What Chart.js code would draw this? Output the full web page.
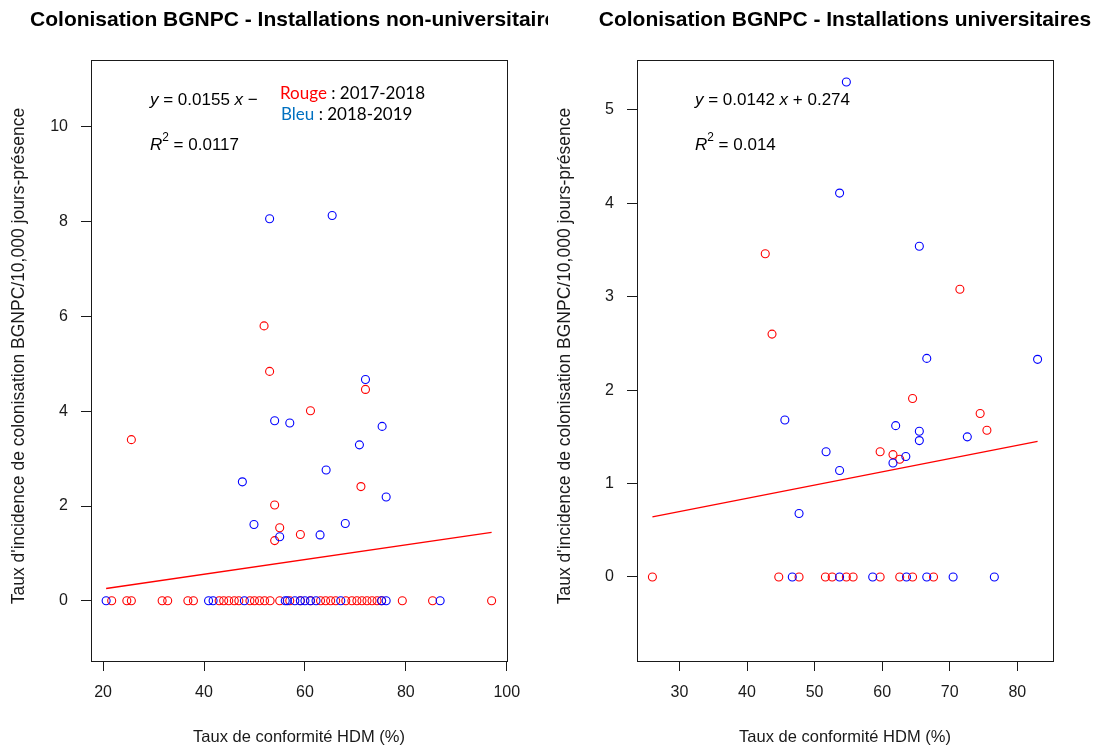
<!DOCTYPE html>
<html>
<head>
<meta charset="utf-8">
<title>Colonisation BGNPC</title>
<script src="https://cdn.jsdelivr.net/npm/chart.js@4.4.0/dist/chart.umd.min.js"></script>
<style>
  body { margin: 0; background: #fff; width: 1093px; height: 748px; overflow: hidden; position: relative; }
  .panel { position: absolute; top: 0; height: 748px; }
  #left { left: 0; width: 548px; }
  #right { left: 548px; width: 545px; }
</style>
</head>
<body>
<div class="panel" id="left"><canvas id="nonUnivChart"></canvas></div>
<div class="panel" id="right"><canvas id="univChart"></canvas></div>
<script>
// [taux de conformité HDM (%), incidence / 10 000 jours-présence]
const nonUnivRouge = [
  [25.6, 3.40], [51.9, 5.80], [53.0, 4.84], [61.1, 4.01], [72.0, 4.46],
  [71.1, 2.41], [54.0, 2.02], [55.0, 1.54], [59.1, 1.40], [54.0, 1.27],
  [21.7, 0], [24.7, 0], [25.6, 0], [31.7, 0], [32.8, 0], [36.8, 0], [37.9, 0],
  [43.0, 0], [43.9, 0], [44.9, 0], [46.0, 0], [46.9, 0], [49.1, 0], [50.0, 0],
  [51.0, 0], [52.0, 0], [53.1, 0], [55.0, 0], [57.0, 0], [59.1, 0], [61.1, 0],
  [63.1, 0], [64.1, 0], [65.1, 0], [66.1, 0], [68.1, 0], [69.3, 0], [70.3, 0],
  [71.3, 0], [72.3, 0], [73.3, 0], [74.3, 0], [75.2, 0], [79.3, 0], [85.3, 0],
  [97.0, 0]
];
const nonUnivBleu = [
  [53.0, 8.06], [65.4, 8.13], [72.0, 4.67], [54.0, 3.80], [57.0, 3.75],
  [75.3, 3.68], [70.8, 3.29], [64.2, 2.76], [47.6, 2.51], [76.1, 2.19],
  [49.9, 1.61], [68.0, 1.63], [63.0, 1.39], [55.0, 1.35],
  [20.6, 0], [40.9, 0], [41.8, 0], [48.0, 0], [56.1, 0], [56.5, 0], [58.0, 0],
  [59.1, 0], [60.0, 0], [61.1, 0], [62.2, 0], [67.1, 0], [75.2, 0], [76.1, 0],
  [86.8, 0]
];
const univRouge = [
  [42.7, 3.46], [71.5, 3.08], [43.7, 2.60], [64.5, 1.91], [74.5, 1.75],
  [75.5, 1.57], [59.7, 1.34], [61.6, 1.31], [62.6, 1.26],
  [26.0, 0], [44.7, 0], [47.7, 0], [51.6, 0], [52.6, 0], [54.7, 0], [55.7, 0],
  [59.7, 0], [62.6, 0], [64.5, 0], [67.6, 0]
];
const univBleu = [
  [54.7, 5.30], [53.7, 4.11], [65.5, 3.54], [66.6, 2.34], [83.0, 2.33],
  [45.6, 1.68], [62.0, 1.62], [65.5, 1.56], [72.6, 1.50], [65.5, 1.46],
  [51.7, 1.34], [63.5, 1.29], [61.6, 1.22], [53.7, 1.14], [47.7, 0.68],
  [46.7, 0], [53.7, 0], [58.6, 0], [63.6, 0], [66.6, 0], [70.5, 0], [76.6, 0]
];

// droites de régression (lm)
const nonUnivFit = { slope: 0.0155, intercept: -0.06 };
const univFit = { slope: 0.0142, intercept: 0.274 };

const nonUnivXTicks = [20, 40, 60, 80, 100];
const nonUnivYTicks = [0, 2, 4, 6, 8, 10];
const univXTicks = [30, 40, 50, 60, 70, 80];
const univYTicks = [0, 1, 2, 3, 4, 5];

const SANS = "'Liberation Sans', Arial, Helvetica, sans-serif";
const RED = '#ff0000';
const BLUE = '#0000ff';
const INK = '#1a1a1a';

Chart.defaults.font.family = SANS;
Chart.defaults.font.size = 16;
Chart.defaults.color = INK;

function pts(pairs) {
  return pairs.map(([x, y]) => ({ x, y }));
}

function fitLine(fit, sets) {
  const xs = sets.flat().map(p => p[0]);
  const x0 = Math.min(...xs), x1 = Math.max(...xs);
  return [
    { x: x0, y: fit.slope * x0 + fit.intercept },
    { x: x1, y: fit.slope * x1 + fit.intercept }
  ];
}

// draws a run of text pieces, some italic or superscript (like R plotmath)
function runs(ctx, x, y, parts, size) {
  let cx = x;
  for (const p of parts) {
    const s = p.sup ? size * 0.7 : size;
    ctx.font = `${p.it ? 'italic ' : ''}${s}px ${p.family || SANS}`;
    ctx.fillStyle = p.color || '#000';
    ctx.fillText(p.t, cx, p.sup ? y - size * 0.42 : y);
    cx += ctx.measureText(p.t).width;
  }
}

const panelText = {
  id: 'panelText',
  afterDraw(chart, args, o) {
    const { ctx, chartArea: a } = chart;
    ctx.save();
    ctx.strokeStyle = INK;
    ctx.lineWidth = 1;
    ctx.strokeRect(Math.round(a.left) + 0.5, Math.round(a.top) + 0.5,
      Math.round(a.right - a.left), Math.round(a.bottom - a.top));

    const cx = (a.left + a.right) / 2;
    ctx.fillStyle = '#000';
    ctx.textBaseline = 'middle';
    ctx.textAlign = 'center';
    ctx.font = `bold 21px ${SANS}`;
    ctx.fillText(o.title, cx, 20);

    ctx.fillStyle = INK;
    ctx.font = `16.5px ${SANS}`;
    ctx.fillText(o.xTitle, cx, 737);

    ctx.save();
    ctx.translate(o.yTitleX, 356);
    ctx.rotate(-Math.PI / 2);
    ctx.font = `17.5px ${SANS}`;
    ctx.fillText(o.yTitle, 0, 0);
    ctx.restore();

    ctx.textAlign = 'left';
    runs(ctx, o.textX, 100, o.eq, 17);
    runs(ctx, o.textX, 145, o.r2, 17);
    (o.legend || []).forEach(l => runs(ctx, l.x, l.y, l.parts, 17));
    ctx.restore();
  }
};

function scale(ticks, min, max, fitSize, isX) {
  return {
    type: 'linear',
    min, max,
    afterBuildTicks: s => { s.ticks = ticks.map(v => ({ value: v })); },
    afterFit: s => { if (isX) s.height = fitSize; else s.width = fitSize; },
    grid: { display: true, drawOnChartArea: false, drawTicks: true, tickLength: 10, color: INK, lineWidth: 1 },
    border: { display: false },
    ticks: { autoSkip: false, maxRotation: 0, padding: isX ? 12 : 13, color: INK, font: { size: 16 } }
  };
}

function makePanel(id, cfg) {
  return new Chart(document.getElementById(id), {
    type: 'scatter',
    data: {
      datasets: [
        { data: fitLine(cfg.fit, [cfg.rouge, cfg.bleu]), showLine: true, borderColor: RED, borderWidth: 1.3, pointRadius: 0 },
        { data: pts(cfg.bleu), borderColor: BLUE, backgroundColor: 'rgba(0,0,0,0)', pointRadius: 4, borderWidth: 1.1 },
        { data: pts(cfg.rouge), borderColor: RED, backgroundColor: 'rgba(0,0,0,0)', pointRadius: 4, borderWidth: 1.1 }
      ]
    },
    options: {
      responsive: true,
      maintainAspectRatio: false,
      animation: false,
      events: [],
      layout: { padding: { top: 60, right: cfg.padRight, left: 0, bottom: 0 } },
      scales: {
        x: scale(cfg.xTicks, cfg.xMin, cfg.xMax, 87, true),
        y: scale(cfg.yTicks, cfg.yMin, cfg.yMax, cfg.yWidth, false)
      },
      plugins: {
        legend: { display: false },
        tooltip: { enabled: false },
        panelText: cfg.text
      }
    },
    plugins: [panelText]
  });
}

const yTitle = "Taux d'incidence de colonisation BGNPC/10,000 jours-présence";
const xTitle = 'Taux de conformité HDM (%)';

makePanel('nonUnivChart', {
  rouge: nonUnivRouge, bleu: nonUnivBleu, fit: nonUnivFit,
  xTicks: nonUnivXTicks, yTicks: nonUnivYTicks,
  xMin: 17.6, xMax: 100.05, yMin: -1.27, yMax: 11.41,
  yWidth: 91, padRight: 41,
  text: {
    title: 'Colonisation BGNPC - Installations non-universitaires',
    xTitle, yTitle, yTitleX: 19, textX: 150,
    eq: [{ t: 'y', it: true }, { t: ' = 0.0155 ' }, { t: 'x', it: true }, { t: ' \u2212' }],
    r2: [{ t: 'R', it: true }, { t: '2', sup: true }, { t: ' = 0.0117' }],
    legend: [
      { x: 280, y: 94, parts: [{ t: 'Rouge', color: '#ff0000', family: 'Lato' }, { t: ' : 2017-2018', family: 'Lato' }] },
      { x: 281, y: 115, parts: [{ t: 'Bleu', color: '#0070c0', family: 'Lato' }, { t: ' : 2018-2019', family: 'Lato' }] }
    ]
  }
});

makePanel('univChart', {
  rouge: univRouge, bleu: univBleu, fit: univFit,
  xTicks: univXTicks, yTicks: univYTicks,
  xMin: 23.72, xMax: 85.28, yMin: -0.9, yMax: 5.535,
  yWidth: 89, padRight: 40,
  text: {
    title: 'Colonisation BGNPC - Installations universitaires',
    xTitle, yTitle, yTitleX: 17, textX: 147,
    eq: [{ t: 'y', it: true }, { t: ' = 0.0142 ' }, { t: 'x', it: true }, { t: ' + 0.274' }],
    r2: [{ t: 'R', it: true }, { t: '2', sup: true }, { t: ' = 0.014' }]
  }
});
</script>
</body>
</html>
